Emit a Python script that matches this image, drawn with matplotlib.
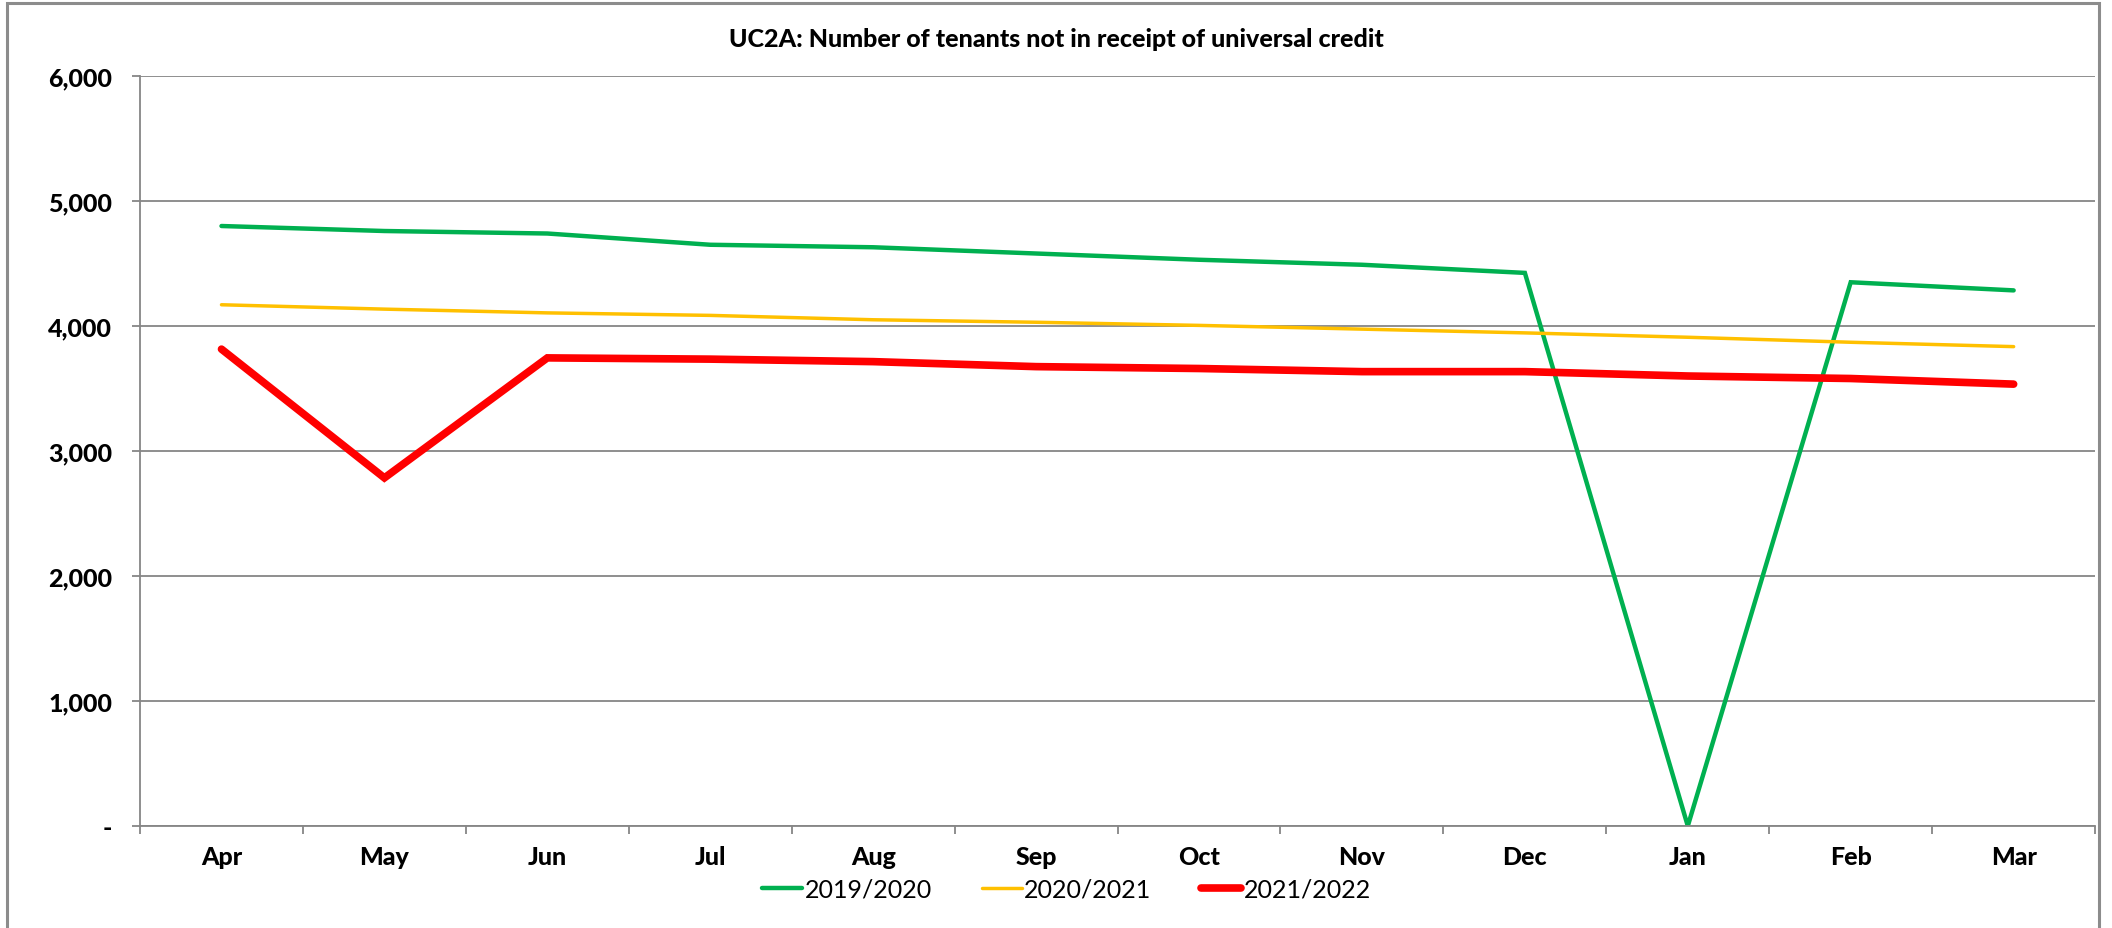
import numpy as np
import matplotlib
matplotlib.use("Agg")
import matplotlib.pyplot as plt
from matplotlib.patches import Rectangle
from matplotlib.ticker import FuncFormatter

plt.rcParams['font.family'] = ['Lato', 'DejaVu Sans']

months = ["Apr", "May", "Jun", "Jul", "Aug", "Sep", "Oct", "Nov", "Dec", "Jan", "Feb", "Mar"]
uc_2019 = [4800, 4760, 4740, 4650, 4630, 4580, 4530, 4490, 4425, 0, 4350, 4285]
uc_2020 = [4170, 4135, 4105, 4085, 4050, 4030, 4005, 3975, 3945, 3910, 3870, 3835]
uc_2021 = [3815, 2785, 3745, 3735, 3715, 3675, 3660, 3635, 3635, 3600, 3580, 3535]

series = [
    ("2019/2020", uc_2019, "#00b050", 3.2),
    ("2020/2021", uc_2020, "#ffc000", 2.5),
    ("2021/2022", uc_2021, "#ff0000", 5.5),
]

fig = plt.figure(figsize=(21.12, 9.29), dpi=100)
ax = fig.add_axes([0.0663, 0.1098, 0.9257, 0.8073])

x = np.arange(len(months))
for name, vals, col, lw in series:
    ax.plot(x, vals, color=col, lw=lw, label=name, solid_capstyle="round", solid_joinstyle="miter")

grid_col = "#868686"
ax.set_ylim(0, 6000)
ax.set_yticks(np.arange(0, 6001, 1000))
ax.yaxis.set_major_formatter(FuncFormatter(lambda v, p: "-" if v == 0 else f"{int(v):,}"))
ax.grid(axis="y", color=grid_col, lw=1.3)
ax.set_axisbelow(True)

ax.set_xlim(-0.5, len(months) - 0.5)
ax.set_xticks(x)
ax.set_xticklabels(months)
ax.set_xticks(np.arange(-0.5, len(months)), minor=True)
ax.tick_params(axis="x", which="major", length=0, pad=14, labelsize=18)
ax.tick_params(axis="x", which="minor", length=6, width=1.3, color=grid_col, direction="out")
ax.tick_params(axis="y", length=6, width=1.3, color=grid_col, pad=14, labelsize=18)
for lab in ax.get_xticklabels() + ax.get_yticklabels():
    lab.set_fontweight("black")

for s in ["top", "right"]:
    ax.spines[s].set_visible(False)
for s in ["left", "bottom"]:
    ax.spines[s].set_color(grid_col)
    ax.spines[s].set_linewidth(1.3)

fig.text(0.5, 0.957, "UC2A: Number of tenants not in receipt of universal credit",
         ha="center", va="center", fontsize=18, fontweight="black")

leg = fig.legend(loc="center", bbox_to_anchor=(0.505, 0.042), ncol=3, frameon=False,
                 fontsize=18, handlelength=1.6, handletextpad=0.1, columnspacing=2.0)

fig.patches.append(Rectangle((0.0035, -0.01), 0.9905, 1.006, transform=fig.transFigure,
                             fill=False, edgecolor="#8c8c8c", lw=2.2))

fig.savefig("out.png", dpi=100)
